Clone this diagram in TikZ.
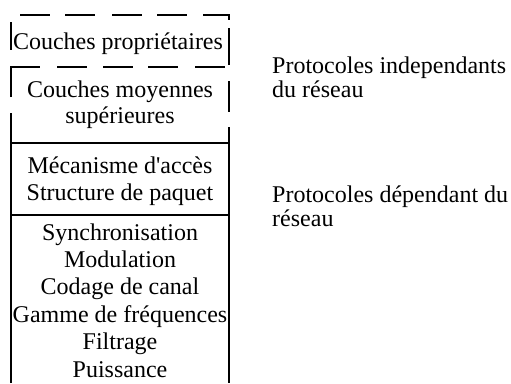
\documentclass[tikz,border=0pt]{standalone}
\usepackage{fontspec}
\setmainfont{Liberation Serif}
\tikzset{
  layer/.style={line width=1.7bp,black},
  lbl/.style={font=\fontsize{24bp}{27.4bp}\selectfont,align=center,inner sep=0pt,anchor=base},
  side/.style={font=\fontsize{24bp}{24.4bp}\selectfont,align=left,inner sep=0pt,anchor=base west}
}

\begin{document}
\begin{tikzpicture}[x=1bp,y=-1bp]
\useasboundingbox (0,0) rectangle (511,383);
% upper layers, dashed by hand
\foreach \xa/\xb in {20/50,65/95,112/142,157/187}
  \draw[layer] (\xa,15)--(\xb,15);
\draw[layer] (203,15)--(229,15)--(229,20);
\draw[layer] (11,22)--(11,50);
\draw[layer] (229,28)--(229,65);
\draw[layer] (11,97)--(11,67)--(40,67);
\foreach \xa/\xb in {57/87,103/133,148/178,195/225}
  \draw[layer] (\xa,67)--(\xb,67);
\draw[layer] (229,81)--(229,112);
\draw[layer] (11,113)--(11,143);
\draw[layer] (229,127)--(229,143);
% lower layers
\draw[layer] (11,383)--(11,143)--(229,143)--(229,383);
\draw[layer] (11,215)--(229,215);
% texts (base = last line)
\node[lbl] (prop) at (118,49) {Couches propriétaires};
\node[lbl,font=\fontsize{24bp}{25.5bp}\selectfont] (moy) at (120,123) {Couches moyennes\\supérieures};
\node[lbl,font=\fontsize{24bp}{27bp}\selectfont] (acces) at (120,200) {Mécanisme d\textquotesingle accès\\Structure de paquet};
\node[lbl] (phy) at (120,377) {Synchronisation\\Modulation\\Codage de canal\\Gamme de fréquences\\Filtrage\\Puissance};
\node[side] (indep) at (272,97.5) {Protocoles independants\\du réseau};
\node[side] (dep) at (272,226.5) {Protocoles dépendant du\\réseau};
\end{tikzpicture}
\end{document}
